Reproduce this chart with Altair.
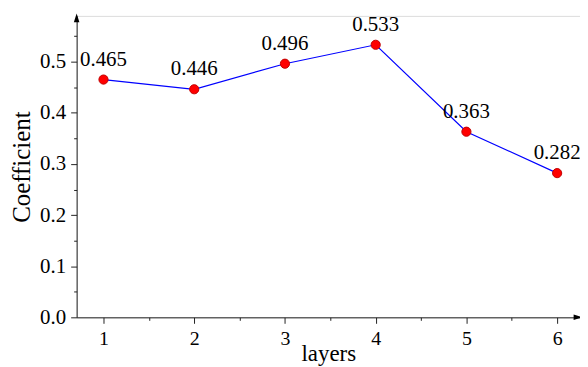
import altair as alt
import pandas as pd

layers = [1, 2, 3, 4, 5, 6]
coef = [0.465, 0.446, 0.496, 0.533, 0.363, 0.282]
y_ticks = [0.0, 0.1, 0.2, 0.3, 0.4, 0.5]
y_minor = [0.05, 0.15, 0.25, 0.35, 0.45, 0.55]
x_ticks = [1, 2, 3, 4, 5, 6]
x_minor = [1.5, 2.5, 3.5, 4.5, 5.5]

X_DOM = [0.704, 6.252]
Y_DOM = [0.0, 0.5895]

FONT = "Liberation Serif"

df = pd.DataFrame({"x": layers, "y": coef, "label": [f"{v:.3f}" for v in coef]})

x_axis = alt.Axis(
    values=x_ticks + x_minor,
    labelExpr="datum.value % 1 == 0 ? format(datum.value, 'd') : ''",
    tickSize={"condition": {"test": "datum.value % 1 == 0", "value": 6}, "value": 3},
    title="layers", titleFont=FONT, titleFontSize=23, titleFontWeight="normal",
    titleColor="black", titlePadding=-6,
    labelFont=FONT, labelFontSize=20, labelColor="black", labelPadding=5,
    domainColor="#222", tickColor="#222", grid=False, labelFlush=False,
)
y_axis = alt.Axis(
    values=y_ticks + y_minor,
    labelExpr="round(datum.value*100) % 10 == 0 ? format(datum.value, '.1f') : ''",
    tickSize={"condition": {"test": "round(datum.value*100) % 10 == 0", "value": 6}, "value": 3},
    title="Coefficient", titleFont=FONT, titleFontSize=25, titleFontWeight="normal",
    titleColor="black", titlePadding=5,
    labelFont=FONT, labelFontSize=21, labelColor="black", labelPadding=5,
    domainColor="#222", tickColor="#222", grid=False, labelFlush=False,
)

X = alt.X("x:Q", scale=alt.Scale(domain=X_DOM, nice=False, zero=False), axis=x_axis)
Y = alt.Y("y:Q", scale=alt.Scale(domain=Y_DOM, nice=False, zero=False), axis=y_axis)

base = alt.Chart(df)
line = base.mark_line(color="#0000ff", strokeWidth=1.2).encode(x=X, y=Y)
pts = base.mark_point(filled=True, shape="circle", size=85, color="#ff0000",
                      stroke="#c00000", strokeWidth=1, opacity=1).encode(x=X, y=Y)
txt = base.mark_text(font=FONT, fontSize=21, color="black", dy=-20, align="center",
                     baseline="middle").encode(x=X, y=Y, text="label:N")

arr_y = alt.Chart(pd.DataFrame({"x": [X_DOM[0]], "y": [Y_DOM[1]]})).mark_point(
    shape="M0,-0.6 L-0.7,1.6 L0.7,1.6 Z", filled=True, color="black", size=64, opacity=1
).encode(x=X, y=Y)
arr_x = alt.Chart(pd.DataFrame({"x": [X_DOM[1]], "y": [Y_DOM[0]]})).mark_point(
    shape="M0.6,0 L-1.6,-0.7 L-1.6,0.7 Z", filled=True, color="black", size=64, opacity=1
).encode(x=X, y=Y)

chart = alt.layer(line, pts, txt, arr_y, arr_x).properties(
    width=506, height=303,
    autosize=alt.AutoSizeParams(type="none"),
    padding={"left": 69, "top": 7, "right": 0, "bottom": 48},
).configure_view(stroke=None).configure(background="white")

chart.save("out.html", embed_options={"renderer": "svg", "actions": False})
